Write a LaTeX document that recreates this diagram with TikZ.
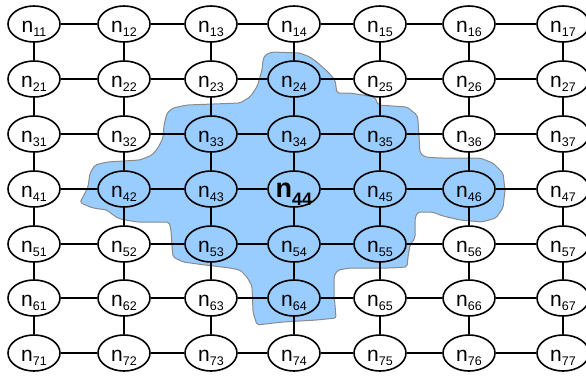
\documentclass[tikz,border=0pt]{standalone}
\usepackage{fontspec}
\setmainfont{Liberation Sans}
\usetikzlibrary{shapes.geometric}
\definecolor{blobblue}{HTML}{99CCFF}
\definecolor{blobedge}{HTML}{8A8A8A}
\newcommand{\nlab}[1]{n\raisebox{-4.5pt}{\fontsize{12.5}{12.5}\selectfont #1}}
\newcommand{\nbig}[1]{\bfseries n\raisebox{-8pt}{\fontsize{18}{18}\selectfont\bfseries #1}}
\tikzset{
  cell/.style={draw, line width=1.6pt, ellipse, minimum width=52pt, minimum height=36pt,
    inner sep=0pt, text height=16pt, text depth=0pt, font=\fontsize{21}{21}\selectfont},
  bigcell/.style={cell, font=\fontsize{27}{27}\selectfont},
  link/.style={line width=1.5pt},
  blob/.style={fill=blobblue, draw=blobedge, line width=1pt, rounded corners=2pt}
}
\begin{document}
\begin{tikzpicture}[x=1pt,y=-1pt]
\useasboundingbox (0,0) rectangle (586,375);
% blue region
\draw[blob] (263,60) -- (265,55) -- (272,52) -- (300,53) -- (310,57) -- (318,63) -- (328,72)
  -- (335,80) -- (337,93) -- (350,93) -- (375,97) -- (378,105) -- (407,107) -- (417,115)
  -- (418,120) -- (420,153) -- (425,157) -- (440,158) -- (480,158) -- (493,163) -- (503,173)
  -- (505,190) -- (503,208) -- (496,218) -- (482,222) -- (460,220) -- (443,216) -- (432,212)
  -- (418,212) -- (415,218) -- (415,238) -- (410,245) -- (408,257) -- (407,267) -- (390,268)
  -- (350,268) -- (338,270) -- (334,276) -- (334,295) -- (335,305) -- (336,318) -- (317,320)
  -- (283,322) -- (257,325) -- (253,312) -- (252,286) -- (247,277) -- (240,270) -- (230,268)
  -- (205,265) -- (183,262) -- (173,257) -- (172,247) -- (171,230) -- (169,222) -- (137,222)
  -- (120,219) -- (113,215) -- (107,210) -- (93,208) -- (85,205) -- (80,202) -- (83,197)
  -- (88,187) -- (90,173) -- (95,165) -- (107,162) -- (140,160) -- (152,155) -- (158,148)
  -- (163,138) -- (164,125) -- (167,113) -- (173,108) -- (187,105) -- (240,103) -- (250,97)
  -- (257,87) -- (262,70) -- cycle;
% nodes
\foreach \r/\y in {1/24,2/79,3/134,4/189,5/244,6/298,7/353}{
  \foreach \c/\x in {1/34,2/124,3/211,4/294,5/380,6/469,7/563}{
    \ifnum\r\c=44
      \node[bigcell] (n\r\c) at (\x,\y) {\nbig{\r\c}};
    \else
      \node[cell] (n\r\c) at (\x,\y) {\nlab{\r\c}};
    \fi
  }
}
% horizontal links
\foreach \r in {1,...,7}{
  \foreach \c [evaluate=\c as \d using int(\c+1)] in {1,...,6}{
    \draw[link] (n\r\c) -- (n\r\d);
  }
}
% vertical links
\foreach \r [evaluate=\r as \s using int(\r+1)] in {1,...,6}{
  \foreach \c in {1,...,7}{
    \draw[link] (n\r\c) -- (n\s\c);
  }
}
\end{tikzpicture}
\end{document}
